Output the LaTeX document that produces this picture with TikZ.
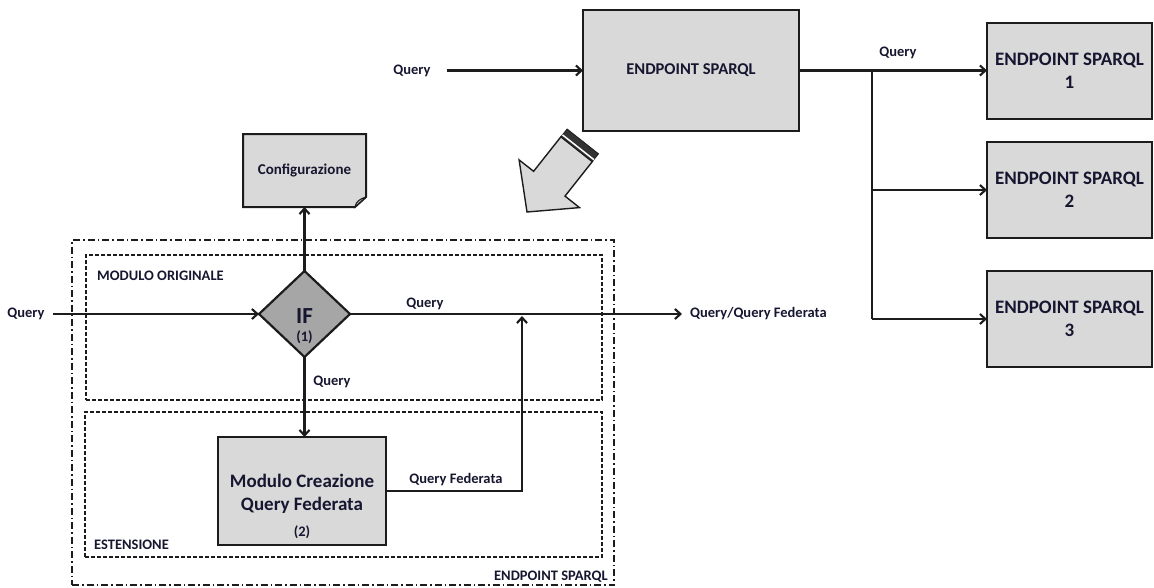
\documentclass[tikz,border=0pt]{standalone}
\usepackage{fontspec}
\setmainfont{Carlito}
\usetikzlibrary{arrows.meta,shapes.geometric,calc}
\definecolor{boxgray}{RGB}{217,217,217}
\definecolor{diagray}{RGB}{166,166,166}
\definecolor{linec}{RGB}{28,28,28}
\definecolor{txtc}{RGB}{22,22,48}
\tikzset{
  ln/.style={draw=linec, line width=2.1pt},
  arr/.style={ln, -{Straight Barb[length=5.5pt,width=10pt]}},
  box/.style={draw=linec, line width=2pt, fill=boxgray, inner sep=0pt, outer sep=0pt},
  lbl/.style={font=\fontsize{14.5}{17}\selectfont\bfseries, text=txtc, inner sep=0pt},
  biglbl/.style={font=\fontsize{19}{23}\selectfont\bfseries, text=txtc, inner sep=0pt, align=center},
  dashbox/.style={draw=linec, line width=1.5pt, dash pattern=on 4pt off 2pt, inner sep=0pt, outer sep=0pt},
  dotdashbox/.style={draw=linec, line width=1.5pt, dash pattern=on 7pt off 3pt on 1.5pt off 3pt, inner sep=0pt, outer sep=0pt},
}
\begin{document}
\begin{tikzpicture}[x=1pt,y=-1pt]
\useasboundingbox (0,0) rectangle (1154,587);

% ---- top part: main endpoint and remote endpoints ----
\node[box, minimum width=216, minimum height=121, biglbl, font=\fontsize{16.5}{20}\selectfont\bfseries] (main) at (691,70.5) {ENDPOINT SPARQL};
\node[box, minimum width=165, minimum height=96, biglbl] (ep1) at (1069.5,70.5) {ENDPOINT SPARQL\\1};
\node[box, minimum width=165, minimum height=96, biglbl] (ep2) at (1069.5,190) {ENDPOINT SPARQL\\2};
\node[box, minimum width=165, minimum height=96, biglbl] (ep3) at (1069.5,319) {ENDPOINT SPARQL\\3};

\node[lbl] (qin) at (412,71) {Query};
\coordinate (qins) at (447,70.5);
\draw[arr] (qins) -- (main.west);

\coordinate (br1) at (872,70.5);
\coordinate (br2) at (872,190);
\coordinate (br3) at (872,319);
\draw[arr] (main.east) -- (ep1.west);
\draw[ln] (br1) -- (br3);
\draw[arr] (br2) -- (ep2.west);
\draw[arr] (br3) -- (ep3.west);
\node[lbl] (qbr) at (898,53) {Query};

% ---- block arrow (zoom into the endpoint) ----
\filldraw[fill=boxgray, draw=linec, line width=1.4pt, line join=miter]
  (527,212) -- (579.5,207.6) -- (565.0,196.1) -- (592.3,161.6)
  -- (560.9,136.8) -- (533.6,171.3) -- (519.1,159.9) -- cycle;
\filldraw[fill=linec!90, draw=linec, line width=0.8pt]
  (592.3,161.6) -- (598.5,153.8) -- (567.1,129.0) -- (560.9,136.8) -- cycle;
\draw[white, line width=1.5pt] (593.85,159.64) -- (562.45,134.84);

% ---- configuration document ----
\node[inner sep=0pt, outer sep=0pt, minimum width=123, minimum height=73] (conf) at (304.5,170.5) {};
\filldraw[fill=boxgray, draw=linec, line width=2pt, line join=miter]
  (conf.north west) -- (conf.north east) -- ([yshift=10pt]conf.south east)
  -- ([xshift=-11pt]conf.south east) -- (conf.south west) -- cycle;
\filldraw[fill=boxgray!80!black, draw=linec, line width=1pt]
  ([yshift=10pt]conf.south east) .. controls ([xshift=-6pt,yshift=8pt]conf.south east) and ([xshift=-10pt,yshift=6pt]conf.south east) .. ([xshift=-11pt]conf.south east)
  -- ([yshift=10pt]conf.south east);
\node[lbl, font=\fontsize{15}{17}\selectfont\bfseries] (conft) at (304.5,170) {Configurazione};

% ---- extended endpoint ----
\node[dotdashbox, minimum width=542, minimum height=345] (ext) at (343,412.5) {};
\node[lbl, anchor=south east] (extl) at ([xshift=-6pt,yshift=2pt]ext.south east) {ENDPOINT SPARQL};

\node[dashbox, minimum width=516, minimum height=145] (orig) at (344,327.5) {};
\node[lbl, anchor=west] (origl) at (97,276) {MODULO ORIGINALE};

\node[dashbox, minimum width=517, minimum height=145] (estn) at (343.5,484.5) {};
\node[lbl, anchor=west] (estnl) at (94,545) {ESTENSIONE};

% decision
\node[diamond, draw=linec, line width=2.2pt, fill=diagray, inner sep=0pt, outer sep=0pt,
      minimum width=91, minimum height=86, aspect=1.06] (ifn) at (304.5,314) {};
\node[font=\fontsize{23}{25}\selectfont\bfseries, text=txtc, inner sep=0pt] (ift) at (304.5,316) {IF};
\node[lbl] (ifnum) at (304.5,337) {(1)};

\node[lbl] (qleft) at (26,314) {Query};
\coordinate (qlefts) at (53,314);
\draw[arr] (qlefts) -- (ifn.west);

\node[lbl, anchor=west] (qout) at (690,314) {Query/Query Federata};
\draw[arr] (ifn.east) -- ([xshift=-8pt]qout.west);
\node[lbl] (qif) at (425,304) {Query};

\draw[arr] (ifn.north) -- (conf.south);

% federated query module
\node[box, minimum width=168, minimum height=108] (mod) at (302,491) {};
\node[biglbl] (modt) at (302,494) {Modulo Creazione\\Query Federata};
\node[lbl] (modn) at (302,532) {(2)};

\draw[arr] (ifn.south) -- (ifn.south |- mod.north);
\node[lbl] (qdown) at (332,382) {Query};

\coordinate (merge) at (522,316);
\draw[arr] (mod.east) -| (merge);
\node[lbl] (qfed) at (456,480) {Query Federata};
\end{tikzpicture}
\end{document}
